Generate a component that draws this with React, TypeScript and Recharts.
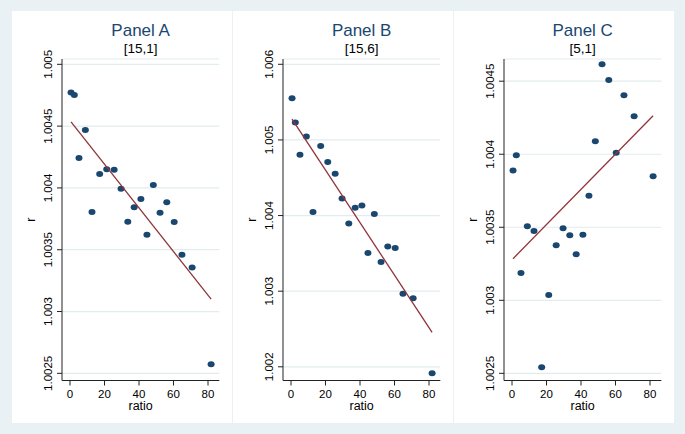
import React from 'react'
import { CartesianGrid, Scatter, ScatterChart, XAxis, YAxis } from 'recharts'

// ratio values shared by all three panels
const ratio = [0.6, 2.5, 5.2, 8.9, 12.75, 17.2, 21.3, 25.6, 29.6, 33.5, 37.2, 41.1, 44.6, 48.3, 52.2, 56.1, 60.4, 64.9, 70.8, 81.8]

const rA = [1.004772, 1.004751, 1.004243, 1.004468, 1.003806, 1.004113, 1.004152, 1.004148, 1.003994, 1.003727,
  1.003844, 1.003911, 1.003622, 1.004024, 1.0038, 1.003884, 1.003724, 1.003459, 1.003357, 1.002574]
const rB = [1.005552, 1.00523, 1.004803, 1.005045, 1.004046, 1.004918, 1.004707, 1.004552, 1.004226, 1.003896,
  1.004103, 1.004133, 1.003505, 1.00402, 1.003386, 1.003592, 1.003571, 1.002967, 1.002905, 1.001914]
const rC = [1.003888, 1.003993, 1.003187, 1.003507, 1.003475, 1.002541, 1.003036, 1.003377, 1.003493, 1.003445,
  1.003315, 1.003449, 1.003716, 1.004089, 1.004616, 1.004509, 1.004011, 1.004404, 1.00426, 1.003849]

// fitted line end points
const fitRatio = [0.6, 81.8]
const fitA = [1.004535, 1.0031]
const fitB = [1.005275, 1.002455]
const fitC = [1.003285, 1.004264]

const ticksX = [0, 20, 40, 60, 80]
const ticksA = [1.0025, 1.003, 1.0035, 1.004, 1.0045, 1.005]
const ticksB = [1.002, 1.003, 1.004, 1.005, 1.006]
const ticksC = [1.0025, 1.003, 1.0035, 1.004, 1.0045]

const titles = ['Panel A', 'Panel B', 'Panel C']
const subtitles = ['[15,1]', '[15,6]', '[5,1]']

const navy = '#1a476f'
const maroon = '#90353b'
const font = '"Liberation Sans", Arial, sans-serif'

const toRows = (xs: number[], ys: number[]) => xs.map((x, i) => ({ ratio: x, r: ys[i] }))

const panels = [
  { r: rA, fit: fitA, ticks: ticksA, domain: [1.002442, 1.005043], left: 12 },
  { r: rB, fit: fitB, ticks: ticksB, domain: [1.001819, 1.00607], left: 233 },
  { r: rC, fit: fitC, ticks: ticksC, domain: [1.002451, 1.004652], left: 454 },
]

const YTick = (props: any) => {
  const { x, y, payload } = props
  const bx = x - 3.2
  return (
    <text x={bx} y={y} transform={`rotate(-90 ${bx} ${y})`} textAnchor="middle" fontSize={11.5} fill="#000" fontFamily={font}>
      {String(payload.value)}
    </text>
  )
}

const XTick = (props: any) => {
  const { x, y, payload } = props
  return (
    <text x={x} y={y + 10} textAnchor="middle" fontSize={11.5} fill="#000" fontFamily={font}>
      {payload.value}
    </text>
  )
}

const Dot = (props: any) => <ellipse cx={props.cx} cy={props.cy} rx={3.5} ry={3} fill={navy} />

const Panel = ({ idx }: { idx: number }) => {
  const p = panels[idx]
  const pts = toRows(ratio, p.r)
  const fit = toRows(fitRatio, p.fit)
  return (
    <div style={{ position: 'absolute', left: p.left, top: 11, width: 220, height: 412, background: '#fff' }}>
      <ScatterChart width={220} height={412} margin={{ top: 48, right: 12.7, bottom: 0, left: 0 }}>
        <CartesianGrid vertical={false} stroke="#e2ebee" strokeWidth={1.2} />
        <XAxis
          type="number"
          dataKey="ratio"
          domain={[-4.64, 86.55]}
          ticks={ticksX}
          allowDataOverflow
          height={42.5}
          tickSize={5}
          tickMargin={2}
          tick={<XTick />}
          stroke="#222"
          label={(lp: any) => {
            const vb = lp.viewBox
            return (
              <text x={vb.x + vb.width / 2} y={vb.y + 29} textAnchor="middle" fontSize={12.5} fill="#000" fontFamily={font}>
                ratio
              </text>
            )
          }}
        />
        <YAxis
          type="number"
          dataKey="r"
          domain={p.domain}
          ticks={p.ticks}
          allowDataOverflow
          width={50}
          tickSize={5}
          tickMargin={2}
          tick={<YTick />}
          stroke="#222"
          label={(lp: any) => {
            const vb = lp.viewBox
            const cx = vb.x + vb.width - 27.2
            const cy = vb.y + vb.height / 2
            return (
              <text x={cx} y={cy} transform={`rotate(-90 ${cx} ${cy})`} textAnchor="middle" fontSize={12.5} fill="#000" fontFamily={font}>
                r
              </text>
            )
          }}
        />
        <Scatter data={pts} shape={<Dot />} isAnimationActive={false} />
        <Scatter
          data={fit}
          line={{ stroke: maroon, strokeWidth: 1.3 }}
          shape={() => <g />}
          isAnimationActive={false}
        />
      </ScatterChart>
      <svg width={220} height={60} style={{ position: 'absolute', left: 0, top: 0, pointerEvents: 'none' }}>
        <text x={128.65} y={24.5} textAnchor="middle" fontSize={17} fill={navy} fontFamily={font}>
          {titles[idx]}
        </text>
        <text x={128.65} y={42.3} textAnchor="middle" fontSize={13.5} fill="#000" fontFamily={font}>
          {subtitles[idx]}
        </text>
      </svg>
    </div>
  )
}

const App = () => (
  <div style={{ position: 'absolute', left: 0, top: 0, width: 685, height: 434, background: '#eaf1f4', fontFamily: font }}>
    {panels.map((_, i) => (
      <Panel key={i} idx={i} />
    ))}
  </div>
)

export default App
